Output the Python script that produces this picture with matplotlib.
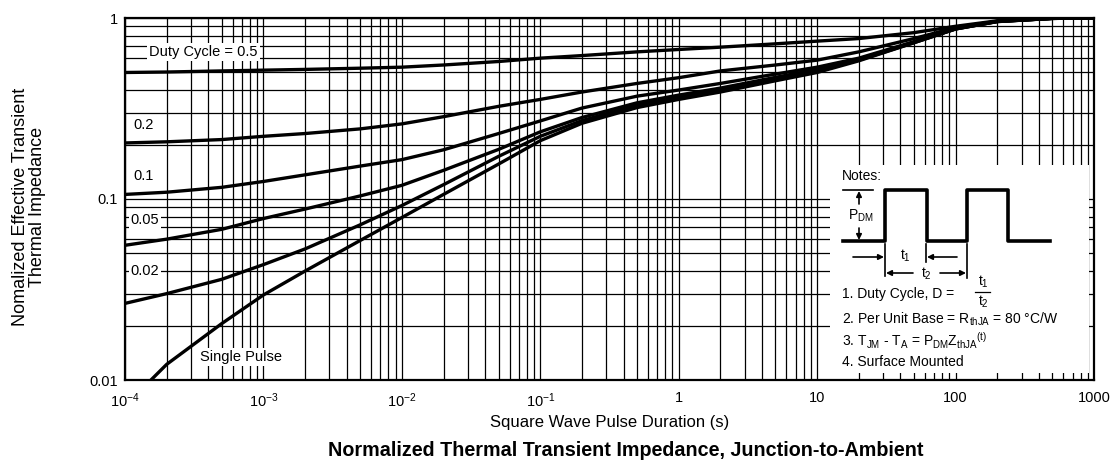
import numpy as np
import matplotlib
matplotlib.use("Agg")
import matplotlib.pyplot as plt
from matplotlib.transforms import Affine2D
from matplotlib.lines import Line2D
from matplotlib.patches import FancyArrowPatch, Rectangle

plt.rcParams['font.family'] = ['Liberation Sans', 'DejaVu Sans']
plt.rcParams['mathtext.fontset'] = 'custom'
plt.rcParams['mathtext.rm'] = 'Liberation Sans'
plt.rcParams['mathtext.it'] = 'Liberation Sans:italic'
plt.rcParams['mathtext.default'] = 'regular'

# values
pulse_time = [1e-4, 2e-4, 5e-4, 1e-3, 2e-3, 5e-3, 1e-2, 2e-2, 5e-2, 0.1, 0.2, 0.5,
              1, 2, 5, 10, 20, 50, 100, 200, 500, 1000]
z_d050 = [0.50, 0.503, 0.51, 0.515, 0.52, 0.528, 0.535, 0.55, 0.575, 0.60, 0.62, 0.65,
          0.67, 0.69, 0.72, 0.745, 0.77, 0.83, 0.90, 0.965, 0.997, 1.0]
z_d020 = [0.204, 0.207, 0.213, 0.222, 0.23, 0.244, 0.26, 0.285, 0.325, 0.355, 0.39, 0.435,
          0.468, 0.51, 0.55, 0.585, 0.65, 0.77, 0.885, 0.96, 0.995, 1.0]
z_d010 = [0.106, 0.109, 0.116, 0.125, 0.136, 0.152, 0.165, 0.187, 0.23, 0.27, 0.318, 0.37,
          0.40, 0.435, 0.49, 0.535, 0.60, 0.74, 0.875, 0.958, 0.995, 1.0]
z_d005 = [0.0555, 0.06, 0.068, 0.078, 0.088, 0.104, 0.119, 0.144, 0.188, 0.235, 0.282, 0.34,
          0.375, 0.41, 0.47, 0.52, 0.59, 0.735, 0.87, 0.957, 0.995, 1.0]
z_d002 = [0.0265, 0.030, 0.036, 0.0434, 0.053, 0.072, 0.092, 0.12, 0.172, 0.222, 0.271, 0.33,
          0.365, 0.40, 0.46, 0.51, 0.585, 0.73, 0.87, 0.956, 0.995, 1.0]
single_time = [1.5e-4, 2e-4, 5e-4, 1e-3, 2e-3, 5e-3, 1e-2, 2e-2, 5e-2, 0.1, 0.2, 0.5,
               1, 2, 5, 10, 20, 50, 100, 200, 500, 1000]
z_single = [0.0098, 0.0122, 0.0205, 0.0295, 0.04, 0.059, 0.079, 0.106, 0.156, 0.21, 0.262, 0.32,
            0.355, 0.39, 0.45, 0.50, 0.58, 0.73, 0.87, 0.955, 0.995, 1.0]

curve_labels = ['Duty Cycle = 0.5', '0.2', '0.1', '0.05', '0.02', 'Single Pulse']
label_pos = [(1.5e-4, 0.65), (1.15e-4, 0.255), (1.15e-4, 0.134), (1.1e-4, 0.077), (1.1e-4, 0.040), (3.5e-4, 0.0134)]

xticks = [1e-4, 1e-3, 1e-2, 1e-1, 1, 10, 100, 1000]
xticklabels = [r'$10^{-4}$', r'$10^{-3}$', r'$10^{-2}$', r'$10^{-1}$', '1', '10', '100', '1000']
yticks = [0.01, 0.1, 1]
yticklabels = ['0.01', '0.1', '1']

W, H = 1118, 463
fig = plt.figure(figsize=(W / 100, H / 100), dpi=100)
ax = fig.add_axes([125 / W, 1 - 380 / H, (1094 - 125) / W, (380 - 18) / H])

ax.set_xscale('log')
ax.set_yscale('log')
ax.set_xlim(1e-4, 1000)
ax.set_ylim(0.01, 1)

for z in [z_d050, z_d020, z_d010, z_d005, z_d002]:
    ax.plot(pulse_time, z, color='black', lw=2.4, zorder=3, solid_joinstyle='round')
ax.plot(single_time, z_single, color='black', lw=2.4, zorder=3, solid_joinstyle='round')

ax.set_axisbelow(True)
ax.grid(True, which='both', color='black', lw=0.9)
ax.set_xticks(xticks)
ax.set_xticklabels(xticklabels)
ax.set_yticks(yticks)
ax.set_yticklabels(yticklabels)
ax.minorticks_on()
ax.tick_params(which='both', length=0, labelsize=10.5, pad=8)
ax.tick_params(axis='y', pad=5)
for s in ax.spines.values():
    s.set_linewidth(1.6)

for txt, (x, y) in zip(curve_labels, label_pos):
    ax.text(x, y, txt, fontsize=10.5, va='center', ha='left', zorder=4,
            bbox=dict(fc='white', ec='none', pad=1.5))

ax.set_xlabel('Square Wave Pulse Duration (s)', fontsize=12, labelpad=4)
fig.text(29 / W, 1 - 207 / H, 'Nomalized Effective Transient\nThermal Impedance',
         rotation=90, ha='center', va='center', fontsize=13, linespacing=1.0)
fig.text(626 / W, 1 - 450 / H, 'Normalized Thermal Transient Impedance, Junction-to-Ambient',
         ha='center', va='center', fontsize=14.2, fontweight='bold')

# notes box, drawn in reference pixel coordinates
T = Affine2D().scale(1 / W, -1 / H).translate(0, 1) + fig.transFigure
fig.add_artist(Rectangle((830, 165), 259, 208, transform=T, fc='white', ec='none', zorder=2))

wave_x = [843, 885, 885, 927, 927, 967, 967, 1008, 1008, 1050]
wave_y = [241, 241, 190, 190, 241, 241, 190, 190, 241, 241]
fig.add_artist(Line2D(wave_x, wave_y, transform=T, color='black', lw=2.6, zorder=3))
fig.add_artist(Line2D([843, 873], [190, 190], transform=T, color='black', lw=1.2, zorder=3))
fig.add_artist(Line2D([885, 885], [244, 276], transform=T, color='black', lw=1.2, zorder=3))
fig.add_artist(Line2D([926, 926], [244, 262], transform=T, color='black', lw=1.2, zorder=3))
fig.add_artist(Line2D([967, 967], [244, 278], transform=T, color='black', lw=1.2, zorder=3))
# fraction bar of t1/t2
fig.add_artist(Line2D([975, 990], [292, 292], transform=T, color='black', lw=0.9, zorder=3))

arrows = [((859, 204), (859, 191)), ((859, 228), (859, 240)),
          ((853, 257), (884, 257)), ((957, 257), (927, 257)),
          ((913, 273), (886, 273)), ((940, 273), (966, 273))]
for a, b in arrows:
    fig.add_artist(FancyArrowPatch(a, b, transform=T, arrowstyle='-|>', mutation_scale=8,
                                   lw=1.2, color='black', shrinkA=0, shrinkB=0, zorder=3))

nfs = 10
fig.text(842, 176, 'Notes:', transform=T, fontsize=nfs, va='center', ha='left', zorder=4)
fig.text(861, 216, r'P$_{\mathrm{DM}}$', transform=T, fontsize=nfs, va='center', ha='center', zorder=4)
fig.text(905, 256, r't$_1$', transform=T, fontsize=nfs, va='center', ha='center', zorder=4)
fig.text(926, 274, r't$_2$', transform=T, fontsize=nfs, va='center', ha='center', zorder=4)
fig.text(842, 294, '1. Duty Cycle, D =', transform=T, fontsize=nfs, va='center', ha='left', zorder=4)
fig.text(983, 290, r't$_1$', transform=T, fontsize=nfs, va='bottom', ha='center', zorder=4)
fig.text(983, 294, r't$_2$', transform=T, fontsize=nfs, va='top', ha='center', zorder=4)
fig.text(842, 319, '2. Per Unit Base = R$_{\\mathrm{thJA}}$ = 80 °C/W', transform=T,
         fontsize=nfs, va='center', ha='left', zorder=4)
fig.text(842, 341, r'3. T$_{\mathrm{JM}}$ - T$_{\mathrm{A}}$ = P$_{\mathrm{DM}}$Z$_{\mathrm{thJA}}$$^{(\mathrm{t})}$',
         transform=T, fontsize=nfs, va='center', ha='left', zorder=4)
fig.text(842, 362, '4. Surface Mounted', transform=T, fontsize=nfs, va='center', ha='left', zorder=4)

fig.savefig('out.png', dpi=100)
